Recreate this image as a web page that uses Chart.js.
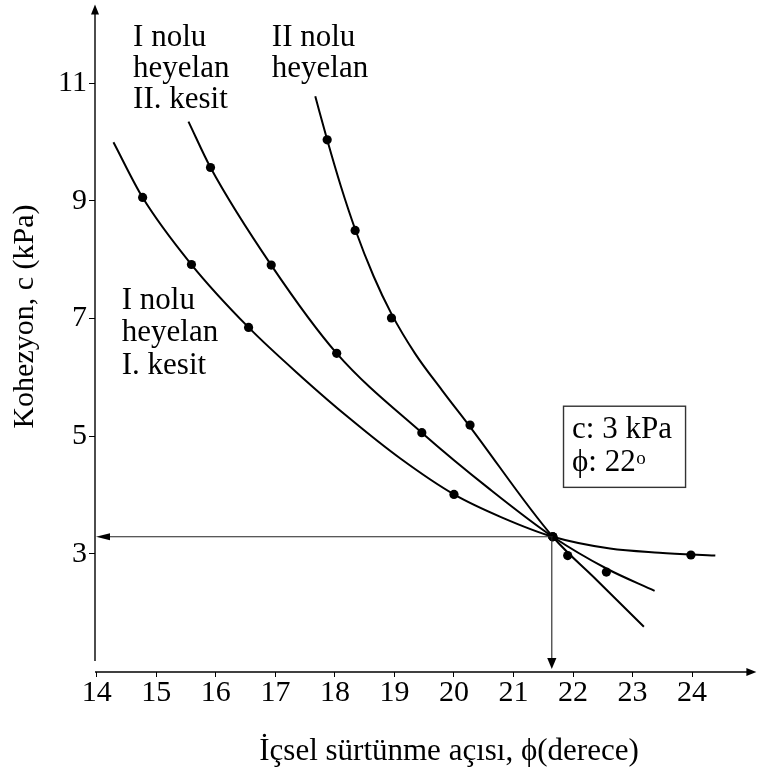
<!DOCTYPE html>
<html><head><meta charset="utf-8">
<script src="https://cdn.jsdelivr.net/npm/chart.js@4.4.1/dist/chart.umd.min.js"></script>
<style>html,body{margin:0;padding:0;background:#fff;}canvas{display:block;}</style>
</head><body>
<canvas id="c" width="761" height="773"></canvas>
<script>
// ---- tick labels ----
const xTicks = [14, 15, 16, 17, 18, 19, 20, 21, 22, 23, 24];
const yTicks = [3, 5, 7, 9, 11];

// ---- measured points (phi in degrees, c in kPa) ----
const kesit1Phi = [14.77, 15.59, 16.55, 20.00, 21.66, 23.98];
const kesit1C   = [9.06, 7.92, 6.85, 4.01, 3.29, 2.98];
const kesit2Phi = [15.91, 16.93, 18.03, 19.46, 21.66, 22.56];
const kesit2C   = [9.57, 7.91, 6.41, 5.06, 3.29, 2.69];
const heyelan2Phi = [17.87, 18.34, 18.95, 20.27, 21.66, 21.91];
const heyelan2C   = [10.04, 8.50, 7.01, 5.19, 3.29, 2.97];

// ---- fitted curves ----
const kesit1CurvePhi = [14.28, 14.77, 15.59, 16.55, 17.45, 18.25, 19.1, 20.0, 20.8, 21.66, 22.62, 23.45, 24.39];
const kesit1CurveC   = [10.0, 9.06, 7.92, 6.85, 6.0, 5.3, 4.62, 4.01, 3.62, 3.29, 3.09, 3.02, 2.97];
const kesit2CurvePhi = [15.54, 15.91, 16.93, 18.03, 19.46, 20.6, 21.66, 22.56, 23.37];
const kesit2CurveC   = [10.35, 9.57, 7.91, 6.41, 5.06, 4.1, 3.29, 2.75, 2.37];
const heyelan2CurvePhi = [17.67, 17.87, 18.1, 18.34, 18.65, 18.95, 19.35, 19.8, 20.27, 21.66, 22.4, 23.19];
const heyelan2CurveC   = [10.78, 10.04, 9.25, 8.52, 7.72, 7.08, 6.4, 5.78, 5.16, 3.29, 2.55, 1.76];

// ---- result (intersection) ----
const resultPhi = 21.66;
const resultC = 3.29;

// ---- axis ranges ----
const xRange = [13.97, 25.08];
const yRange = [0.99, 12.34];

// ---- text ----
const xTitle = 'İçsel sürtünme açısı, ϕ(derece)';
const yTitle = 'Kohezyon, c (kPa)';
const curveLabels = [
  {lines: ['I nolu', 'heyelan', 'II. kesit'], phi: 14.61, c: 11.64, gap: 31},
  {lines: ['II nolu', 'heyelan'], phi: 16.94, c: 11.64, gap: 31},
  {lines: ['I nolu', 'heyelan', 'I. kesit'], phi: 14.42, c: 7.17, gap: 32.5}
];
const boxLine1 = 'c: 3 kPa';
const boxLine2 = 'ϕ: 22';
const boxSup = 'o';
const boxPhi = [21.84, 23.89];
const boxC = [4.13, 5.51];

const pts = (xs, ys) => xs.map((v, i) => ({x: v, y: ys[i]}));
const SERIF = '"Liberation Serif", "Times New Roman", "DejaVu Serif", serif';

function curveDS(xs, ys) {
  return {type: 'line', data: pts(xs, ys), showLine: true, borderColor: '#000', borderWidth: 2,
    pointRadius: 0, cubicInterpolationMode: 'monotone', fill: false, order: 2};
}
function dotDS(xs, ys) {
  return {type: 'scatter', data: pts(xs, ys), showLine: false, pointRadius: 4.6,
    pointBackgroundColor: '#000', pointBorderColor: '#000', pointBorderWidth: 0, order: 1};
}

function arrowHead(ctx, tx, ty, dx, dy, len, half) {
  const bx = tx - dx * len, by = ty - dy * len;
  const px = -dy, py = dx;
  ctx.beginPath();
  ctx.moveTo(tx, ty);
  ctx.lineTo(bx + px * half, by + py * half);
  ctx.lineTo(bx - px * half, by - py * half);
  ctx.closePath();
  ctx.fill();
}

const overlay = {
  id: 'overlay',
  afterDraw(chart) {
    const {ctx, chartArea: a, scales: {x, y}} = chart;
    ctx.save();
    ctx.fillStyle = '#000';
    ctx.strokeStyle = '#000';
    // y axis
    ctx.lineWidth = 1.4;
    ctx.beginPath(); ctx.moveTo(a.left, a.bottom - 11); ctx.lineTo(a.left, a.top + 6); ctx.stroke();
    arrowHead(ctx, a.left, a.top, 0, -1, 10, 4);
    // x axis
    ctx.beginPath(); ctx.moveTo(a.left, a.bottom); ctx.lineTo(a.right - 6, a.bottom); ctx.stroke();
    arrowHead(ctx, a.right, a.bottom, 1, 0, 10, 4);
    // result arrows
    const rx = x.getPixelForValue(resultPhi), ry = y.getPixelForValue(resultC);
    ctx.strokeStyle = '#222';
    ctx.lineWidth = 1.1;
    ctx.beginPath(); ctx.moveTo(rx, ry); ctx.lineTo(a.left + 8, ry); ctx.stroke();
    arrowHead(ctx, a.left + 1, ry, -1, 0, 14, 3.5);
    ctx.beginPath(); ctx.moveTo(rx - 1, ry); ctx.lineTo(rx - 1, a.bottom - 8); ctx.stroke();
    arrowHead(ctx, rx - 1, a.bottom - 3, 0, 1, 11, 4.6);

    // text
    ctx.fillStyle = '#000';
    ctx.textBaseline = 'alphabetic';
    ctx.textAlign = 'left';
    ctx.font = '31px ' + SERIF;
    curveLabels.forEach(l => {
      const lx = x.getPixelForValue(l.phi), ly = y.getPixelForValue(l.c);
      l.lines.forEach((t, i) => ctx.fillText(t, lx, ly + i * l.gap));
    });
    // box
    const bx0 = x.getPixelForValue(boxPhi[0]), bx1 = x.getPixelForValue(boxPhi[1]);
    const by0 = y.getPixelForValue(boxC[1]), by1 = y.getPixelForValue(boxC[0]);
    ctx.strokeStyle = '#333';
    ctx.lineWidth = 1.4;
    ctx.strokeRect(bx0, by0, bx1 - bx0, by1 - by0);
    ctx.fillText(boxLine1, bx0 + 8.5, by0 + 32);
    ctx.fillText(boxLine2, bx0 + 8.5, by0 + 64.7);
    const w2 = ctx.measureText(boxLine2).width;
    ctx.font = '19px ' + SERIF;
    ctx.fillText(boxSup, bx0 + 8.5 + w2 + 0.5, by0 + 58);
    // axis titles
    ctx.font = '31px ' + SERIF;
    ctx.textAlign = 'center';
    ctx.fillText(xTitle, 449, 760);
    ctx.save();
    ctx.translate(32.5, 316.5);
    ctx.rotate(-Math.PI / 2);
    ctx.font = '30px ' + SERIF;
    ctx.fillText(yTitle, 0, 0);
    ctx.restore();
    ctx.restore();
  }
};

new Chart(document.getElementById('c'), {
  type: 'scatter',
  data: {
    datasets: [
      curveDS(kesit1CurvePhi, kesit1CurveC),
      curveDS(kesit2CurvePhi, kesit2CurveC),
      curveDS(heyelan2CurvePhi, heyelan2CurveC),
      dotDS(kesit1Phi, kesit1C),
      dotDS(kesit2Phi, kesit2C),
      dotDS(heyelan2Phi, heyelan2C)
    ]
  },
  options: {
    responsive: false,
    animation: false,
    devicePixelRatio: 1,
    layout: {padding: {top: 3.3, right: 0, left: 0, bottom: 0}},
    plugins: {legend: {display: false}, tooltip: {enabled: false}},
    scales: {
      x: {
        type: 'linear', min: xRange[0], max: xRange[1],
        afterBuildTicks: s => { s.ticks = xTicks.map(v => ({value: v})); },
        afterFit: s => { s.height = 101; s.paddingLeft = 0; s.paddingRight = 0; s.paddingTop = 0; s.paddingBottom = 0; },
        grid: {display: true, drawOnChartArea: false, drawTicks: true, tickLength: 5, color: '#000', lineWidth: 1},
        border: {display: false},
        ticks: {autoSkip: false, maxRotation: 0, color: '#000', padding: 1,
          font: {family: SERIF, size: 30, lineHeight: 1}}
      },
      y: {
        type: 'linear', min: yRange[0], max: yRange[1],
        afterBuildTicks: s => { s.ticks = yTicks.map(v => ({value: v})); },
        afterFit: s => { s.width = 95; s.paddingLeft = 0; s.paddingRight = 0; s.paddingTop = 0; s.paddingBottom = 0; },
        grid: {display: true, drawOnChartArea: false, drawTicks: true, tickLength: 6, color: '#000', lineWidth: 1},
        border: {display: false},
        ticks: {autoSkip: false, color: '#000', padding: 2,
          font: {family: SERIF, size: 30, lineHeight: 1}}
      }
    }
  },
  plugins: [overlay]
});
</script>
</body></html>
